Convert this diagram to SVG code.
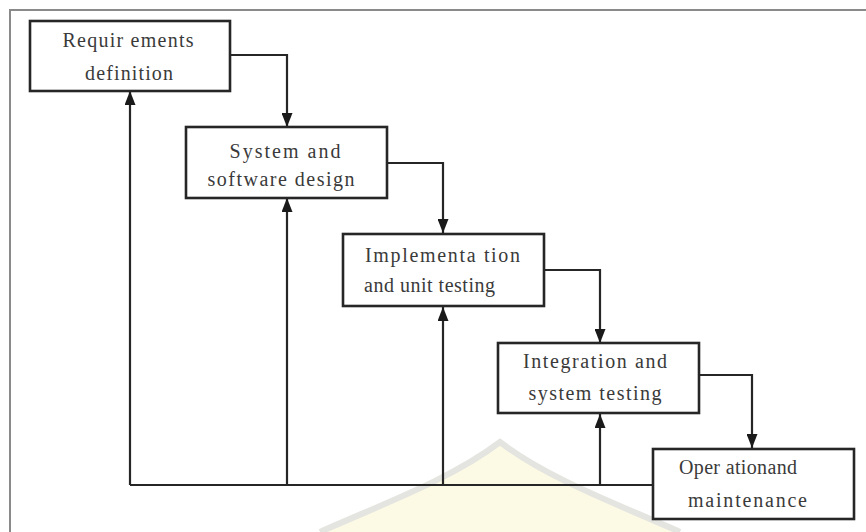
<svg xmlns="http://www.w3.org/2000/svg" width="866" height="532" viewBox="0 0 866 532">
<style>
.box{fill:#fff;stroke:#262626;stroke-width:2.6}
.lbl{font-family:"Liberation Serif","Times New Roman",serif;font-size:20px;fill:#3a3a3a}
.c{text-anchor:middle}
.con{fill:none;stroke:#262626;stroke-width:2.2}
.frame{fill:none;stroke:#8a8a8a;stroke-width:2}
</style>
<defs>
<marker id="ah" viewBox="0 0 14 11" refX="14" refY="5.5" markerWidth="14" markerHeight="11" markerUnits="userSpaceOnUse" orient="auto">
<path d="M0,0 L14,5.5 L0,11 z" fill="#1a1a1a"/>
</marker>
</defs>
<rect width="866" height="532" fill="#fff"/>
<g id="watermark">
<path d="M500,442 C450,480 380,505 320,532 L680,532 C620,505 550,480 500,442 Z" fill="#fcfae4"/>
<path d="M320,532 C380,505 450,480 500,442 C550,480 620,505 680,532" fill="none" stroke="#e4e4e0" stroke-width="6"/>
</g>
<path class="frame" d="M10,532 V10 H866"/>
<g id="connectors">
<path class="con" d="M230,55 H287 V127" marker-end="url(#ah)"/>
<path class="con" d="M387,163 H443 V233" marker-end="url(#ah)"/>
<path class="con" d="M545,270 H600 V343" marker-end="url(#ah)"/>
<path class="con" d="M699,375 H752 V448" marker-end="url(#ah)"/>
<path class="con" d="M653,485 H130"/>
<path class="con" d="M130,485 V91" marker-end="url(#ah)"/>
<path class="con" d="M287,485 V198" marker-end="url(#ah)"/>
<path class="con" d="M443,485 V307" marker-end="url(#ah)"/>
<path class="con" d="M600,485 V414" marker-end="url(#ah)"/>
</g>
<g id="n1">
<rect class="box" x="30" y="21" width="200" height="70"/>
<text class="lbl c" x="128" y="47" textLength="131" lengthAdjust="spacing">Requir ements</text>
<text class="lbl c" x="129" y="80" textLength="88" lengthAdjust="spacing">definition</text>
</g>
<g id="n2">
<rect class="box" x="186" y="127" width="201" height="71"/>
<text class="lbl c" x="285" y="158" textLength="111" lengthAdjust="spacing">System and</text>
<text class="lbl c" x="281" y="186" textLength="147" lengthAdjust="spacing">software design</text>
</g>
<g id="n3">
<rect class="box" x="343" y="234" width="201" height="72"/>
<text class="lbl" x="365" y="262" textLength="155" lengthAdjust="spacing">Implementa tion</text>
<text class="lbl" x="364" y="292" textLength="131" lengthAdjust="spacing">and unit testing</text>
</g>
<g id="n4">
<rect class="box" x="498" y="343" width="201" height="70"/>
<text class="lbl c" x="595" y="368" textLength="144" lengthAdjust="spacing">Integration and</text>
<text class="lbl c" x="595" y="400" textLength="133" lengthAdjust="spacing">system testing</text>
</g>
<g id="n5">
<rect class="box" x="653" y="449" width="201" height="70"/>
<text class="lbl" x="679" y="474" textLength="118" lengthAdjust="spacing">Oper ationand</text>
<text class="lbl" x="688" y="507" textLength="119" lengthAdjust="spacing">maintenance</text>
</g>
</svg>
